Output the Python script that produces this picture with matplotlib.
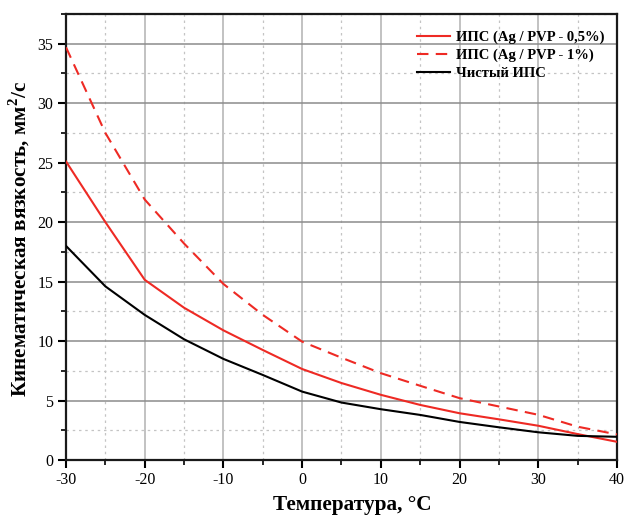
import matplotlib
matplotlib.use("Agg")
import matplotlib.pyplot as plt
from matplotlib.ticker import MultipleLocator

# Temperature, °C
temperature = [-30, -25, -20, -15, -10, -5, 0, 5, 10, 15, 20, 25, 30, 35, 40]

# Kinematic viscosity, mm^2/s
ips_ag_05 = [25.1, 20.0, 15.15, 12.8, 10.9, 9.25, 7.65, 6.47, 5.48, 4.63, 3.93, 3.42, 2.88, 2.18, 1.53]
ips_ag_1 = [34.7, 27.5, 21.9, 18.2, 14.8, 12.2, 9.95, 8.6, 7.3, 6.24, 5.2, 4.5, 3.8, 2.8, 2.15]
ips_pure = [18.0, 14.6, 12.2, 10.15, 8.5, 7.15, 5.75, 4.83, 4.27, 3.79, 3.2, 2.75, 2.33, 2.03, 1.95]

labels = ["ИПС (Ag / PVP - 0,5%)", "ИПС (Ag / PVP - 1%)", "Чистый ИПС"]

plt.rcParams["font.family"] = ["Liberation Serif", "DejaVu Serif"]
plt.rcParams["axes.unicode_minus"] = False
plt.rcParams["mathtext.fontset"] = "custom"
plt.rcParams["mathtext.rm"] = "Liberation Serif:bold"
plt.rcParams["mathtext.bf"] = "Liberation Serif:bold"

fig = plt.figure(figsize=(6.27, 5.15), dpi=100)
ax = fig.add_axes([0.1053, 0.1068, 0.8787, 0.866])

red = "#ee2a24"
ax.plot(temperature, ips_ag_05, color=red, lw=1.5, label=labels[0], zorder=3)
ax.plot(temperature, ips_ag_1, color=red, lw=1.5, ls=(0, (5.5, 3.5)), label=labels[1], zorder=3)
ax.plot(temperature, ips_pure, color="black", lw=1.5, label=labels[2], zorder=3)

ax.set_xlim(-30, 40)
ax.set_ylim(0, 37.5)
ax.xaxis.set_major_locator(MultipleLocator(10))
ax.xaxis.set_minor_locator(MultipleLocator(5))
ax.yaxis.set_major_locator(MultipleLocator(5))
ax.yaxis.set_minor_locator(MultipleLocator(2.5))

ax.grid(axis="x", which="major", color="#bdbdbd", lw=1.3, zorder=0)
ax.grid(axis="y", which="major", color="#8c8c8c", lw=1.1, zorder=0)
ax.grid(which="minor", color="#c4c4c4", lw=0.9, ls=(0, (2, 3)), zorder=0)
ax.set_axisbelow(True)

for s in ax.spines.values():
    s.set_linewidth(1.6)
    s.set_color("#1a1a1a")

ax.tick_params(which="major", direction="out", length=6, width=1.5, labelsize=11.5, pad=3)
ax.tick_params(which="minor", direction="out", length=3.5, width=1.2)

ax.set_xlabel("Температура, °C", fontsize=15.3, fontweight="bold")
ax.xaxis.set_label_coords(0.52, -0.078)
ax.set_ylabel("Кинематическая вязкость, мм$^{2}$/с", fontsize=15.2, fontweight="bold")
ax.yaxis.set_label_coords(-0.062, 0.495)

ax.legend(loc="upper right", frameon=False, prop={"weight": "bold", "size": 10.5},
          handlelength=2.3, handletextpad=0.35, labelspacing=0.3,
          borderaxespad=0.3, bbox_to_anchor=(0.995, 0.985))

fig.savefig("out.png", dpi=100)
